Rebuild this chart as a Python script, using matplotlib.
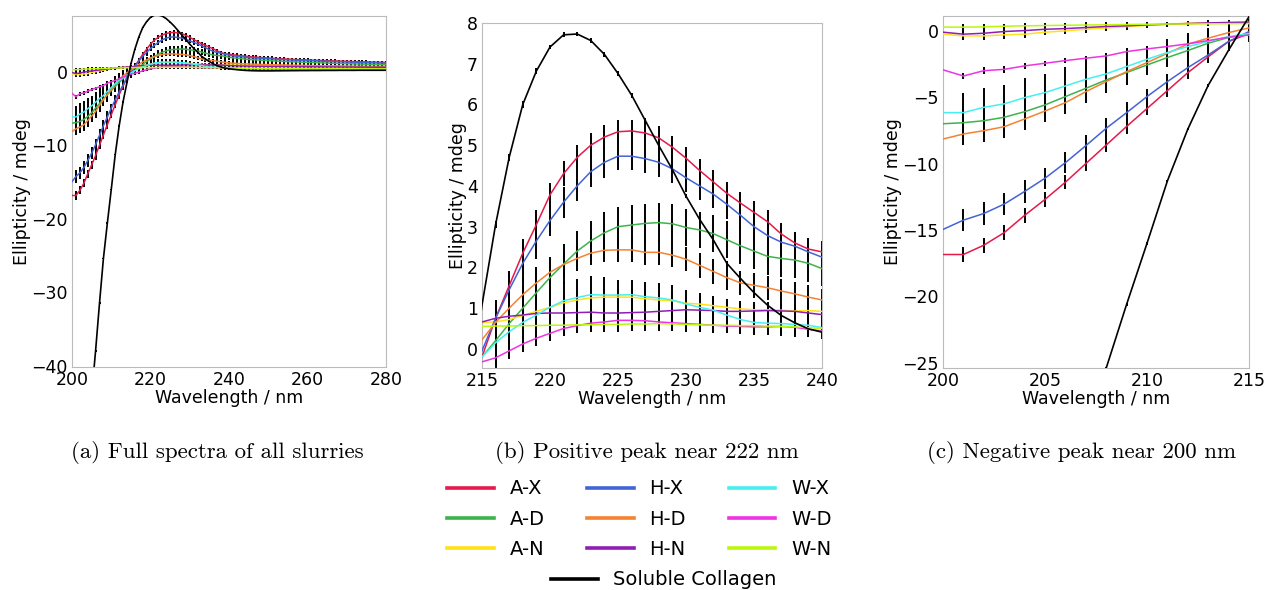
import matplotlib
matplotlib.use("Agg")
import matplotlib.pyplot as plt
import numpy as np

wavelength = np.arange(200, 281)  # nm, 1 nm steps

# ellipticity (mdeg): 200-214 | 215-240 | 241-280
ax_ = [-16.85, -16.85, -16.15, -15.2, -13.9, -12.7, -11.4, -10.0, -8.6, -7.2, -5.85, -4.5, -3.15, -1.95, -0.8,
       -0.2, 0.75, 1.55, 2.35, 3.05, 3.78, 4.3, 4.7, 5.0, 5.2, 5.33, 5.35, 5.3, 5.18, 4.95, 4.68, 4.38, 4.1, 3.82,
       3.58, 3.35, 3.12, 2.82, 2.6, 2.45, 2.38,
       2.31, 2.24, 2.18, 2.12, 2.07, 2.02, 1.98, 1.94, 1.90, 1.86,
       1.83, 1.80, 1.77, 1.74, 1.71, 1.69, 1.66, 1.64, 1.62, 1.60,
       1.58, 1.56, 1.54, 1.52, 1.50, 1.48, 1.47, 1.45, 1.43, 1.42,
       1.40, 1.38, 1.37, 1.35, 1.34, 1.32, 1.31, 1.30, 1.28, 1.27]
hx_ = [-14.96, -14.26, -13.76, -13.05, -12.1, -11.1, -9.93, -8.65, -7.34, -6.16, -4.95, -3.82, -2.77, -1.81, -0.8,
       -0.05, 0.75, 1.45, 2.1, 2.65, 3.15, 3.6, 4.0, 4.35, 4.58, 4.73, 4.73, 4.67, 4.58, 4.42, 4.2, 4.0, 3.8, 3.55,
       3.28, 3.0, 2.78, 2.62, 2.52, 2.38, 2.25,
       2.17, 2.10, 2.04, 1.99, 1.95, 1.91, 1.87, 1.83, 1.80, 1.77,
       1.74, 1.71, 1.68, 1.65, 1.63, 1.60, 1.58, 1.56, 1.54, 1.52,
       1.50, 1.48, 1.46, 1.44, 1.42, 1.40, 1.38, 1.37, 1.35, 1.33,
       1.31, 1.30, 1.28, 1.26, 1.25, 1.23, 1.22, 1.20, 1.18, 1.17]
wx_ = [-6.16, -6.16, -5.76, -5.5, -5.03, -4.65, -4.15, -3.65, -3.24, -2.69, -2.14, -1.63, -1.18, -0.8, -0.43,
       -0.2, 0.15, 0.42, 0.65, 0.83, 1.02, 1.18, 1.26, 1.33, 1.32, 1.32, 1.33, 1.28, 1.25, 1.2, 1.1, 1.02, 0.95,
       0.83, 0.72, 0.65, 0.63, 0.62, 0.6, 0.58, 0.52,
       0.50, 0.49, 0.48, 0.48, 0.47, 0.47, 0.46, 0.46, 0.46, 0.45,
       0.45, 0.45, 0.45, 0.44, 0.44, 0.44, 0.44, 0.43, 0.43, 0.43,
       0.43, 0.43, 0.42, 0.42, 0.42, 0.42, 0.42, 0.41, 0.41, 0.41,
       0.41, 0.41, 0.40, 0.40, 0.40, 0.40, 0.40, 0.40, 0.39, 0.39]
ad_ = [-7.0, -6.92, -6.77, -6.51, -6.09, -5.58, -4.95, -4.33, -3.7, -3.14, -2.57, -2.01, -1.48, -0.93, -0.5,
       -0.2, 0.2, 0.62, 1.0, 1.38, 1.75, 2.08, 2.4, 2.65, 2.85, 3.0, 3.04, 3.08, 3.1, 3.07, 2.98, 2.92, 2.83, 2.68,
       2.53, 2.4, 2.27, 2.22, 2.18, 2.1, 1.97,
       1.90, 1.84, 1.78, 1.73, 1.69, 1.65, 1.61, 1.58, 1.55, 1.52,
       1.49, 1.46, 1.43, 1.41, 1.38, 1.36, 1.34, 1.32, 1.30, 1.28,
       1.26, 1.24, 1.22, 1.20, 1.18, 1.17, 1.15, 1.13, 1.12, 1.10,
       1.09, 1.07, 1.06, 1.04, 1.03, 1.01, 1.00, 0.99, 0.97, 0.96]
hd_ = [-8.15, -7.77, -7.52, -7.22, -6.64, -6.04, -5.41, -4.58, -3.82, -3.07, -2.39, -1.69, -1.0, -0.55, -0.13,
       0.22, 0.65, 1.0, 1.33, 1.62, 1.88, 2.07, 2.22, 2.35, 2.42, 2.43, 2.43, 2.37, 2.37, 2.3, 2.2, 2.05, 1.9, 1.75,
       1.62, 1.56, 1.5, 1.42, 1.35, 1.27, 1.2,
       1.16, 1.13, 1.10, 1.08, 1.06, 1.04, 1.02, 1.00, 0.99, 0.97,
       0.96, 0.95, 0.93, 0.92, 0.91, 0.90, 0.89, 0.88, 0.87, 0.86,
       0.85, 0.84, 0.83, 0.82, 0.81, 0.80, 0.80, 0.79, 0.78, 0.77,
       0.77, 0.76, 0.75, 0.75, 0.74, 0.73, 0.73, 0.72, 0.72, 0.71]
wd_ = [-2.94, -3.4, -3.0, -2.9, -2.64, -2.44, -2.24, -2.06, -1.89, -1.56, -1.36, -1.18, -0.98, -0.73, -0.48,
       -0.32, -0.22, -0.05, 0.12, 0.26, 0.38, 0.5, 0.57, 0.63, 0.66, 0.7, 0.7, 0.69, 0.66, 0.64, 0.62, 0.6, 0.58,
       0.56, 0.55, 0.54, 0.54, 0.55, 0.53, 0.48, 0.44,
       0.43, 0.42, 0.42, 0.41, 0.41, 0.40, 0.40, 0.40, 0.39, 0.39,
       0.39, 0.38, 0.38, 0.38, 0.38, 0.37, 0.37, 0.37, 0.37, 0.36,
       0.36, 0.36, 0.36, 0.36, 0.35, 0.35, 0.35, 0.35, 0.35, 0.34,
       0.34, 0.34, 0.34, 0.34, 0.34, 0.33, 0.33, 0.33, 0.33, 0.33]
an_ = [-0.25, -0.38, -0.38, -0.3, -0.25, -0.1, 0.0, 0.12, 0.22, 0.32, 0.42, 0.5, 0.58, 0.6, 0.63,
       0.65, 0.66, 0.72, 0.82, 0.92, 1.02, 1.13, 1.2, 1.25, 1.27, 1.27, 1.27, 1.23, 1.2, 1.18, 1.12, 1.1, 1.06,
       1.02, 0.98, 0.96, 0.96, 0.95, 0.93, 0.94, 0.92,
       0.91, 0.90, 0.89, 0.88, 0.87, 0.86, 0.85, 0.84, 0.84, 0.83,
       0.82, 0.81, 0.81, 0.80, 0.79, 0.79, 0.78, 0.77, 0.77, 0.76,
       0.76, 0.75, 0.75, 0.74, 0.74, 0.73, 0.73, 0.72, 0.72, 0.71,
       0.71, 0.70, 0.70, 0.70, 0.69, 0.69, 0.68, 0.68, 0.68, 0.67]
hn_ = [-0.1, -0.25, -0.18, -0.05, 0.02, 0.12, 0.17, 0.25, 0.33, 0.38, 0.45, 0.5, 0.55, 0.6, 0.63,
       0.66, 0.75, 0.8, 0.83, 0.87, 0.88, 0.88, 0.89, 0.9, 0.88, 0.88, 0.89, 0.9, 0.92, 0.94, 0.96, 0.95, 0.94,
       0.92, 0.92, 0.93, 0.94, 0.93, 0.92, 0.88, 0.84,
       0.82, 0.80, 0.79, 0.78, 0.77, 0.76, 0.75, 0.75, 0.74, 0.73,
       0.73, 0.72, 0.72, 0.71, 0.71, 0.70, 0.70, 0.69, 0.69, 0.68,
       0.68, 0.67, 0.67, 0.66, 0.66, 0.66, 0.65, 0.65, 0.64, 0.64,
       0.64, 0.63, 0.63, 0.63, 0.62, 0.62, 0.62, 0.61, 0.61, 0.61]
wn_ = [0.28, 0.28, 0.3, 0.35, 0.38, 0.4, 0.42, 0.44, 0.46, 0.48, 0.5, 0.51, 0.52, 0.53, 0.54,
       0.55, 0.56, 0.56, 0.57, 0.57, 0.58, 0.58, 0.59, 0.59, 0.6, 0.6, 0.61, 0.61, 0.62, 0.61, 0.6, 0.59, 0.58,
       0.58, 0.57, 0.57, 0.56, 0.55, 0.54, 0.52, 0.5,
       0.49, 0.49, 0.48, 0.48, 0.47, 0.47, 0.47, 0.46, 0.46, 0.46,
       0.45, 0.45, 0.45, 0.45, 0.44, 0.44, 0.44, 0.44, 0.43, 0.43,
       0.43, 0.43, 0.43, 0.42, 0.42, 0.42, 0.42, 0.42, 0.41, 0.41,
       0.41, 0.41, 0.41, 0.41, 0.40, 0.40, 0.40, 0.40, 0.40, 0.40]
collagen = [-59.0, -58.0, -56.0, -53.0, -49.0, -44.0, -38.0, -31.5, -25.4, -20.6, -16.0, -11.3, -7.4, -4.1, -1.45,
            1.07, 3.05, 4.70, 6.0, 6.82, 7.41, 7.71, 7.73, 7.57, 7.23, 6.76, 6.23, 5.61, 4.99, 4.40, 3.75, 3.18,
            2.68, 2.10, 1.73, 1.38, 1.07, 0.82, 0.64, 0.49, 0.41,
            0.34, 0.28, 0.23, 0.19, 0.16, 0.14, 0.13, 0.12, 0.12, 0.12,
            0.12, 0.13, 0.13, 0.14, 0.14, 0.15, 0.15, 0.16, 0.16, 0.16,
            0.17, 0.17, 0.17, 0.18, 0.18, 0.18, 0.18, 0.19, 0.19, 0.19,
            0.19, 0.19, 0.20, 0.20, 0.20, 0.20, 0.20, 0.20, 0.20, 0.20]

# standard deviation per 5 nm band: 200-204, 205-209, ..., 275-279, 280
err_ax = [0.55, 0.55, 0.5, 0.35, 0.3, 0.28, 0.28, 0.28, 0.28, 0.25, 0.25, 0.22, 0.22, 0.2, 0.2, 0.2, 0.2]
err_hx = [0.85, 0.8, 0.6, 0.45, 0.38, 0.35, 0.35, 0.35, 0.3, 0.28, 0.25, 0.22, 0.22, 0.2, 0.2, 0.2, 0.2]
err_wx = [1.45, 1.4, 1.0, 0.65, 0.45, 0.37, 0.35, 0.3, 0.28, 0.25, 0.22, 0.2, 0.2, 0.18, 0.18, 0.18, 0.18]
err_ad = [1.0, 0.95, 0.75, 0.55, 0.5, 0.48, 0.45, 0.45, 0.42, 0.35, 0.3, 0.28, 0.25, 0.25, 0.22, 0.22, 0.22]
err_hd = [0.85, 0.85, 0.6, 0.4, 0.3, 0.3, 0.3, 0.3, 0.28, 0.25, 0.22, 0.2, 0.2, 0.18, 0.18, 0.18, 0.18]
err_wd = [0.25, 0.2, 0.2, 0.2, 0.18, 0.18, 0.18, 0.18, 0.16, 0.16, 0.15, 0.15, 0.15, 0.15, 0.15, 0.15, 0.15]
err_an = [0.3, 0.25, 0.2, 0.2, 0.2, 0.2, 0.2, 0.18, 0.18, 0.16, 0.15, 0.15, 0.15, 0.15, 0.15, 0.15, 0.15]
err_hn = [0.3, 0.25, 0.2, 0.2, 0.2, 0.2, 0.2, 0.18, 0.18, 0.16, 0.15, 0.15, 0.15, 0.15, 0.15, 0.15, 0.15]
err_wn = [0.2, 0.2, 0.18, 0.18, 0.18, 0.18, 0.18, 0.16, 0.16, 0.15, 0.15, 0.15, 0.15, 0.15, 0.15, 0.15, 0.15]
err_col = [0.1, 0.1, 0.1, 0.08, 0.06, 0.06, 0.05, 0.05, 0.05, 0.05, 0.05, 0.05, 0.05, 0.05, 0.05, 0.05, 0.05]

# legend order (column-major for 3 columns)
series = [
    ("A-X", ax_, err_ax, "#e6194b"),
    ("A-D", ad_, err_ad, "#3cb44b"),
    ("A-N", an_, err_an, "#ffe119"),
    ("H-X", hx_, err_hx, "#4363d8"),
    ("H-D", hd_, err_hd, "#f58231"),
    ("H-N", hn_, err_hn, "#911eb4"),
    ("W-X", wx_, err_wx, "#46f0f0"),
    ("W-D", wd_, err_wd, "#f032e6"),
    ("W-N", wn_, err_wn, "#bcf60c"),
]


def band_err(bands):
    return np.append(np.repeat(bands[:-1], 5), bands[-1])


fig = plt.figure(figsize=(12.66, 5.9), dpi=100)
axes = [fig.add_axes([0.0569, 0.378, 0.248, 0.595]),
        fig.add_axes([0.3807, 0.3763, 0.2686, 0.5847]),
        fig.add_axes([0.7449, 0.3763, 0.2417, 0.5966])]

limits = [((200, 280), (-40.2, 7.6), [200, 220, 240, 260, 280], [0, -10, -20, -30, -40]),
          ((215, 240), (-0.47, 8.0), [215, 220, 225, 230, 235, 240], range(0, 9)),
          ((200, 215), (-25.4, 1.12), [200, 205, 210, 215], [0, -5, -10, -15, -20, -25])]

for axis, (xl, yl, xt, yt) in zip(axes, limits):
    for name, y, e, c in series:
        axis.errorbar(wavelength, y, yerr=band_err(e), fmt="none", ecolor="k",
                      elinewidth=1.4, capsize=0, zorder=1)
    axis.errorbar(wavelength, collagen, yerr=band_err(err_col), fmt="none", ecolor="k",
                  elinewidth=1.4, capsize=0, zorder=1)
    for name, y, e, c in series:
        axis.plot(wavelength, y, color=c, lw=1.1, label=name, zorder=3)
    axis.plot(wavelength, collagen, color="k", lw=1.2, label="Soluble Collagen", zorder=3)
    axis.set_xlim(*xl)
    axis.set_ylim(*yl)
    axis.set_xticks(xt)
    axis.set_yticks(list(yt))
    axis.tick_params(length=0, labelsize=12.5, pad=3)
    for sp in axis.spines.values():
        sp.set_color("#bbbbbb")
    axis.set_xlabel("Wavelength / nm", fontsize=12.5, labelpad=0)
    axis.set_ylabel("Ellipticity / mdeg", fontsize=12.5, labelpad=0)

captions = ["(a) Full spectra of all slurries",
            "(b) Positive peak near 222 nm",
            "(c) Negative peak near 200 nm"]
for xc, txt in zip([217, 647, 1082], captions):
    fig.text(xc / 1266, 1 - 452 / 590, txt, ha="center", va="center",
             fontsize=16.5, family="cmr10")

handles = axes[1].get_lines()
leg1 = fig.legend(handles[:9], [s[0] for s in series], ncol=3, loc="center",
                  bbox_to_anchor=(0.505, 0.12), frameon=False, fontsize=14,
                  handlelength=2.4, handletextpad=0.8, columnspacing=2.2, labelspacing=0.58)
leg2 = fig.legend([handles[9]], ["Soluble Collagen"], loc="center",
                  bbox_to_anchor=(0.5245, 0.017), frameon=False, fontsize=14,
                  handlelength=2.4, handletextpad=0.8)
for lg in (leg1, leg2):
    for ln in lg.get_lines():
        ln.set_linewidth(2.6)

fig.savefig("out.png", dpi=100)
